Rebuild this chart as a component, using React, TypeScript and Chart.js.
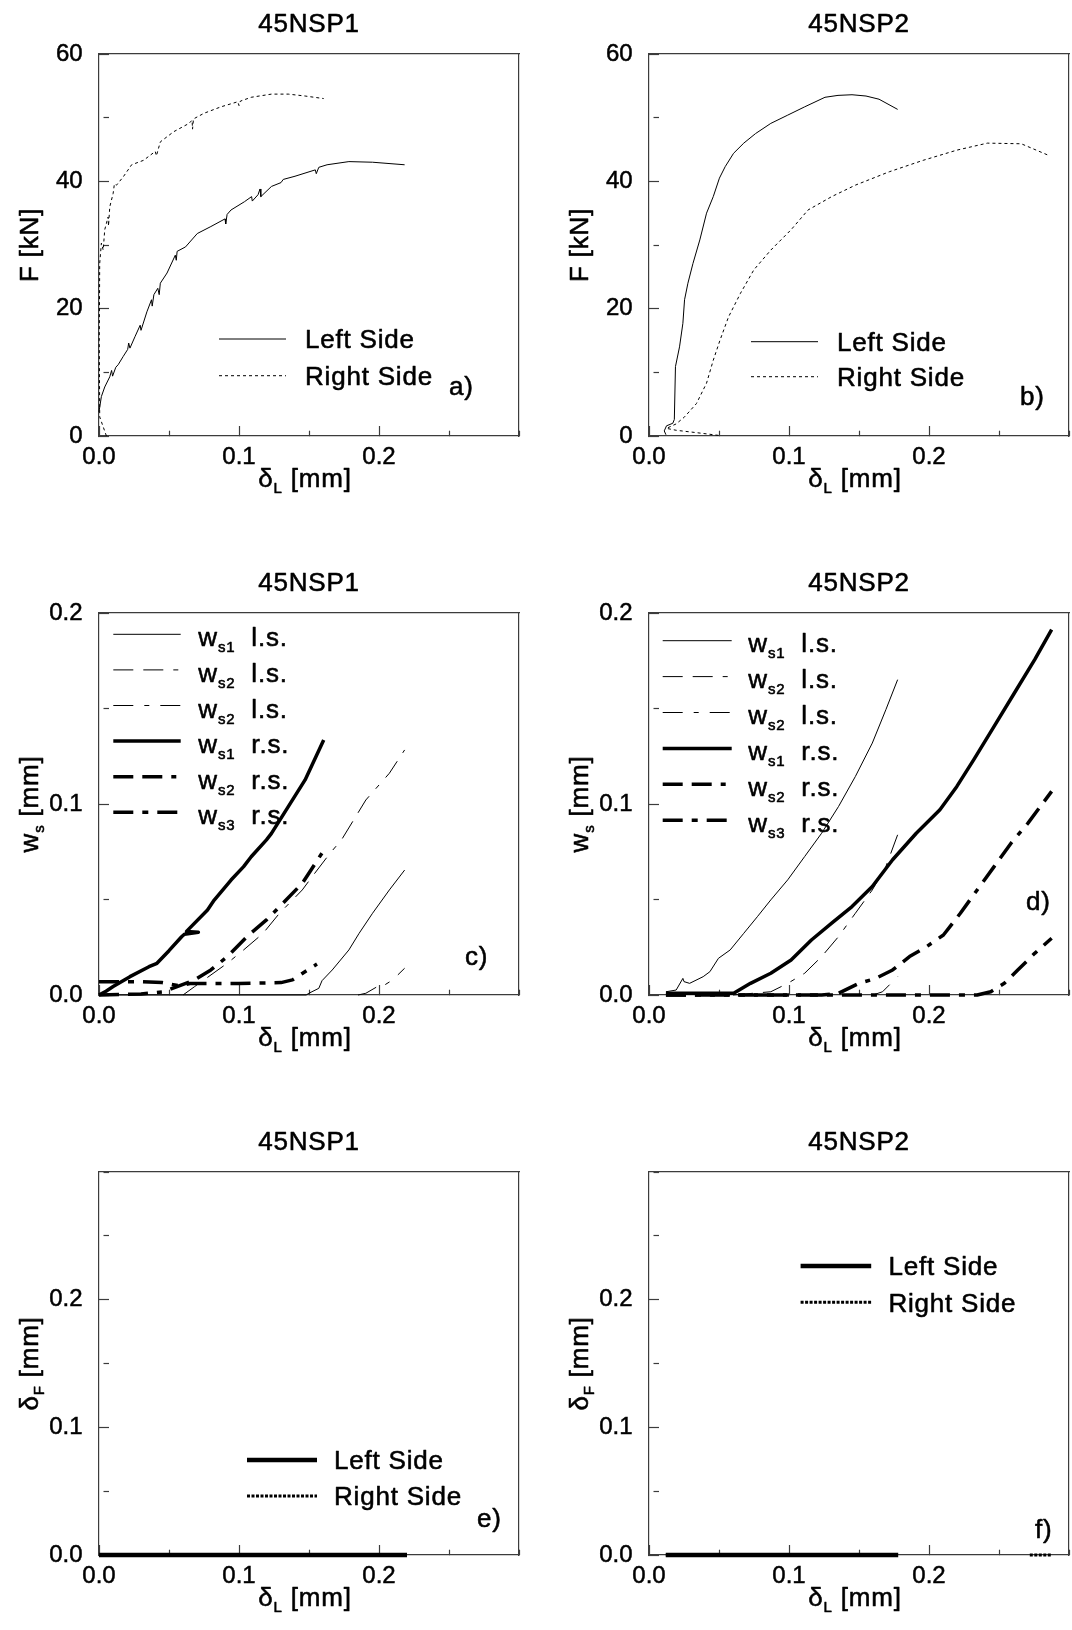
import React, { useEffect, useRef } from 'react';
import { Chart, registerables } from 'chart.js';

Chart.register(...registerables);

// ---------------- DATA ----------------
// axis ticks
const xTicks = [0, 0.05, 0.1, 0.15, 0.2, 0.25, 0.3];
const xTickLabels = ['0.0', '', '0.1', '', '0.2', '', ''];
const fTicks = [0, 10, 20, 30, 40, 50, 60];
const fTickLabels = ['0', '', '20', '', '40', '', '60'];
const wTicks = [0, 0.05, 0.1, 0.15, 0.2];
const wTickLabels = ['0.0', '', '0.1', '', '0.2'];
const dfTicks = [0, 0.05, 0.1, 0.15, 0.2, 0.25, 0.3];
const dfTickLabels = ['0.0', '', '0.1', '', '0.2', '', ''];

// a) 45NSP1  F [kN] vs deltaL [mm]
const aLeftX = [0, 0.0017, 0.0041, 0.0077, 0.009, 0.0097, 0.012, 0.0137, 0.0173, 0.0205, 0.0212, 0.0221, 0.0257, 0.0294, 0.03, 0.0342, 0.0375, 0.038, 0.0392, 0.042, 0.043, 0.0438, 0.0486, 0.0545, 0.0552, 0.0558, 0.0618, 0.0702, 0.0799, 0.09, 0.0905, 0.0915, 0.0943, 0.1039, 0.109, 0.1095, 0.1136, 0.115, 0.1156, 0.1232, 0.13, 0.1316, 0.14, 0.1545, 0.1552, 0.157, 0.1629, 0.1785, 0.1954, 0.2183];
const aLeftF = [3.8, 6.2, 7.7, 9.3, 10.3, 9.4, 10.8, 11.2, 12.5, 13.6, 14.6, 13.8, 15.6, 17.4, 16.6, 19.5, 21.4, 20.4, 22.2, 23.2, 22.2, 24.0, 25.6, 28.4, 27.6, 29.0, 29.7, 31.8, 32.9, 34.1, 33.3, 34.8, 35.5, 36.8, 37.6, 36.9, 37.9, 38.8, 37.6, 39.2, 39.8, 40.3, 40.8, 41.8, 41.2, 42.2, 42.6, 43.1, 43.0, 42.6];
const aRightX = [0.0053, 0.0005, 0.0002, 0.0005, 0.0017, 0.003, 0.0041, 0.0065, 0.0068, 0.0077, 0.0101, 0.011, 0.0125, 0.0173, 0.0233, 0.0318, 0.0402, 0.041, 0.0438, 0.0534, 0.0643, 0.0665, 0.0668, 0.0675, 0.0751, 0.0871, 0.0991, 0.1, 0.101, 0.1087, 0.1232, 0.1352, 0.1472, 0.1605];
const aRightF = [0, 3.0, 15, 27.1, 30.3, 29.2, 32.4, 34.4, 33.0, 36.0, 38.1, 39.6, 39.4, 40.7, 42.6, 43.3, 44.7, 44.0, 46.2, 47.8, 49.1, 49.6, 48.2, 49.8, 50.7, 51.7, 52.5, 51.9, 52.6, 53.2, 53.7, 53.7, 53.4, 53.0];

// b) 45NSP2  F [kN] vs deltaL [mm]
const bLeftX = [0.0121, 0.0109, 0.0125, 0.017, 0.0181, 0.0189, 0.0218, 0.0242, 0.0254, 0.0278, 0.0314, 0.0363, 0.0411, 0.0459, 0.0503, 0.0544, 0.0604, 0.0677, 0.0761, 0.087, 0.0991, 0.1112, 0.1257, 0.1350, 0.145, 0.1550, 0.1643, 0.1776];
const bLeftF = [0.2, 0.8, 1.6, 2.0, 2.6, 10.9, 14.0, 17.7, 21.4, 24.0, 27.1, 30.8, 35.0, 37.6, 40.5, 42.3, 44.4, 46.0, 47.5, 49.1, 50.4, 51.7, 53.2, 53.5, 53.6, 53.4, 52.9, 51.3];
const bRightX = [0.0496, 0.0387, 0.0194, 0.0125, 0.0194, 0.0254, 0.0339, 0.0411, 0.0459, 0.0508, 0.0568, 0.0653, 0.0749, 0.087, 0.1015, 0.1136, 0.1305, 0.1474, 0.1716, 0.1958, 0.2199, 0.2417, 0.2659, 0.2852];
const bRightF = [0.1, 0.4, 0.9, 1.2, 1.9, 3.0, 5.1, 8.3, 11.9, 15.1, 18.7, 22.4, 26.1, 29.2, 32.4, 35.5, 37.6, 39.4, 41.5, 43.3, 44.9, 46.0, 45.9, 44.1];

// c) 45NSP1  ws [mm] vs deltaL [mm]
const cWs1lsX = [0, 0.148, 0.1499, 0.157, 0.1593, 0.1666, 0.1785, 0.1858, 0.1954, 0.2074, 0.2183];
const cWs1lsY = [0, 0, 0.0009, 0.0035, 0.0075, 0.0131, 0.0236, 0.0323, 0.0428, 0.055, 0.0654];
const cWs2lsX = [0.06, 0.0683, 0.0916, 0.1033, 0.1172, 0.1289, 0.1382, 0.1452, 0.1522, 0.165, 0.1732, 0.1906, 0.2074, 0.2183];
const cWs2lsY = [0, 0.0044, 0.0166, 0.0236, 0.0323, 0.0428, 0.0497, 0.055, 0.0619, 0.0742, 0.0812, 0.1021, 0.1161, 0.1283];
const cWs3lsX = [0.185, 0.1906, 0.1988, 0.2002, 0.2098, 0.2183];
const cWs3lsY = [0, 0.0009, 0.0044, 0.0035, 0.0079, 0.014];
const cWs1rsX = [0, 0.005, 0.0101, 0.0221, 0.0357, 0.0414, 0.05, 0.059, 0.061, 0.071, 0.0625, 0.0775, 0.0823, 0.0943, 0.1033, 0.1087, 0.1196, 0.1232, 0.1352, 0.1472, 0.1605];
const cWs1rsY = [0, 0.002, 0.0044, 0.0096, 0.0148, 0.0166, 0.0232, 0.0305, 0.0318, 0.0328, 0.0333, 0.0445, 0.0497, 0.0602, 0.0672, 0.0724, 0.0812, 0.0846, 0.0986, 0.1126, 0.1335];
const cWs2rsX = [0, 0.03, 0.0462, 0.0558, 0.0683, 0.0799, 0.0916, 0.1056, 0.1196, 0.1336, 0.1452, 0.1545, 0.1615];
const cWs2rsY = [0, 0.0005, 0.0017, 0.0044, 0.0079, 0.0131, 0.0201, 0.0305, 0.0393, 0.0497, 0.0585, 0.0689, 0.0768];
const cWs3rsX = [0, 0.03, 0.045, 0.0566, 0.065, 0.1, 0.13, 0.1382, 0.1452, 0.1557];
const cWs3rsY = [0.007, 0.007, 0.0065, 0.0049, 0.006, 0.006, 0.0065, 0.0079, 0.0113, 0.0162];

// d) 45NSP2  ws [mm] vs deltaL [mm]
const dWs1lsX = [0.0121, 0.0194, 0.0242, 0.025, 0.029, 0.0387, 0.0435, 0.0496, 0.058, 0.0677, 0.0774, 0.087, 0.0991, 0.1112, 0.1233, 0.1354, 0.1474, 0.1595, 0.1692, 0.1776];
const dWs1lsY = [0.0017, 0.0026, 0.0087, 0.007, 0.0061, 0.0096, 0.0122, 0.0192, 0.0236, 0.0323, 0.041, 0.0498, 0.0603, 0.0725, 0.0847, 0.0987, 0.1144, 0.1319, 0.1494, 0.1651];
const dWs2lsX = [0.06, 0.087, 0.0991, 0.1112, 0.1233, 0.1354, 0.1474, 0.1595, 0.1692, 0.1776];
const dWs2lsY = [0, 0.0017, 0.0061, 0.0114, 0.0201, 0.0306, 0.0428, 0.055, 0.0672, 0.0839];
const dWs3lsX = [0.16, 0.1668, 0.1776];
const dWs3lsY = [0, 0.0017, 0.0096];
const dWs1rsX = [0.0121, 0.04, 0.0605, 0.0725, 0.087, 0.1015, 0.116, 0.1305, 0.145, 0.1595, 0.174, 0.1909, 0.2078, 0.2199, 0.232, 0.2465, 0.261, 0.2755, 0.2876];
const dWs1rsY = [0.0009, 0.0009, 0.0009, 0.0061, 0.0114, 0.0183, 0.0288, 0.0376, 0.0463, 0.0568, 0.0708, 0.0847, 0.097, 0.1092, 0.1232, 0.1406, 0.1581, 0.1756, 0.1913];
const dWs2rsX = [0.0121, 0.1233, 0.1354, 0.1499, 0.162, 0.174, 0.1861, 0.1982, 0.2103, 0.2224, 0.2344, 0.2465, 0.2586, 0.2707, 0.2876];
const dWs2rsY = [0, 0, 0.0009, 0.0061, 0.0087, 0.0131, 0.0201, 0.0253, 0.0314, 0.0428, 0.055, 0.0672, 0.0795, 0.09, 0.1066];
const dWs3rsX = [0.0121, 0.2344, 0.2441, 0.2538, 0.2634, 0.2755, 0.2876];
const dWs3rsY = [0, 0, 0.0017, 0.0061, 0.0131, 0.0218, 0.0297];

// e) 45NSP1  deltaF [mm] vs deltaL [mm]
const eLeftX = [0, 0.05, 0.1, 0.15, 0.22];
const eLeftY = [0, 0, 0, 0, 0];
const eRightX = [0, 0.05, 0.1, 0.16];
const eRightY = [0, 0, 0, 0];

// f) 45NSP2  deltaF [mm] vs deltaL [mm]
const fLeftX = [0.012, 0.05, 0.1, 0.15, 0.178];
const fLeftY = [0, 0, 0, 0, 0];
const fRightX = [0.012, 0.03, 0.05, 0.1, 0.272, 0.288];
const fRightY = [0, 0, 0, null, 0, 0];

// ---------------- STYLE ----------------
const FAMILY = '"Liberation Sans", Arial, Helvetica, sans-serif';
const MAIN_SIZE = 26;
const TICK_SIZE = 24;
const SUB_SIZE = 15;
const SUB_DY = 6;
const LETTER_SP = '0.8px';
const TEXT_STROKE = 0.55;
const AXIS_COLOR = '#3c3c3c';
const TEXT_COLOR = '#000';

const STY: Record<string, { w: number; dash: number[] }> = {
  thin: { w: 1, dash: [] },
  dotted: { w: 1, dash: [3, 3] },
  thinLLS: { w: 1, dash: [20, 10, 20, 10, 5, 10] },
  thinLS: { w: 1, dash: [20, 11, 5, 11] },
  thick: { w: 3.5, dash: [] },
  thickLLS: { w: 3.5, dash: [20, 9, 20, 9, 5, 9] },
  thickLS: { w: 3.5, dash: [20, 9, 6, 9] },
  heavy: { w: 4.5, dash: [] },
  heavyDot: { w: 3, dash: [3, 1.5] },
};

type Seg = { t: string; sub?: boolean };

const deltaL: Seg[] = [{ t: 'δ' }, { t: 'L', sub: true }, { t: ' [mm]' }];
const wsLabel = (n: string, side: string): Seg[] => [{ t: 'w' }, { t: 's' + n, sub: true }, { t: '  ' + side }];

function series(x: number[], y: (number | null)[], style: string) {
  return { x, y, style };
}

const rowTops = [0, 559, 1118];

const PANELS = [
  {
    key: 'a', left: 0, top: rowTops[0], w: 536, h: 559,
    plotLeft: 99, plotRight: 527, plotTop: 54, plotBottom: 436,
    title: '45NSP1', letter: 'a)', letterX: 350, letterY: 341,
    yMin: 0, yMax: 60, yTicks: fTicks, yLabels: fTickLabels,
    yTitle: [{ t: 'F [kN]' }] as Seg[],
    series: [series(aLeftX, aLeftF, 'thin'), series(aRightX, aRightF, 'dotted')],
    legend: { x0: 120, x1: 187, tx: 206, y0: 285, dy: 36.7, base: 9.3, items: [
      { ds: 0, text: [{ t: 'Left Side' }] }, { ds: 1, text: [{ t: 'Right Side' }] }] },
  },
  {
    key: 'b', left: 536, top: rowTops[0], w: 550, h: 559,
    plotLeft: 113, plotRight: 539, plotTop: 54, plotBottom: 436,
    title: '45NSP2', letter: 'b)', letterX: 371, letterY: 351,
    yMin: 0, yMax: 60, yTicks: fTicks, yLabels: fTickLabels,
    yTitle: [{ t: 'F [kN]' }] as Seg[],
    series: [series(bLeftX, bLeftF, 'thin'), series(bRightX, bRightF, 'dotted')],
    legend: { x0: 102, x1: 169, tx: 188, y0: 287.7, dy: 35, base: 9.3, items: [
      { ds: 0, text: [{ t: 'Left Side' }] }, { ds: 1, text: [{ t: 'Right Side' }] }] },
  },
  {
    key: 'c', left: 0, top: rowTops[1], w: 536, h: 559,
    plotLeft: 99, plotRight: 527, plotTop: 54, plotBottom: 436,
    title: '45NSP1', letter: 'c)', letterX: 366, letterY: 352,
    yMin: 0, yMax: 0.2, yTicks: wTicks, yLabels: wTickLabels,
    yTitle: [{ t: 'w' }, { t: 's', sub: true }, { t: ' [mm]' }] as Seg[],
    series: [
      series(cWs1lsX, cWs1lsY, 'thin'), series(cWs2lsX, cWs2lsY, 'thinLLS'), series(cWs3lsX, cWs3lsY, 'thinLS'),
      series(cWs1rsX, cWs1rsY, 'thick'), series(cWs2rsX, cWs2rsY, 'thickLLS'), series(cWs3rsX, cWs3rsY, 'thickLS'),
    ],
    legend: { x0: 14.3, x1: 81.7, tx: 99.3, y0: 21.3, dy: 35.6, base: 12, items: [
      { ds: 0, text: wsLabel('1', 'l.s.') }, { ds: 1, text: wsLabel('2', 'l.s.') }, { ds: 2, text: wsLabel('2', 'l.s.') },
      { ds: 3, text: wsLabel('1', 'r.s.') }, { ds: 4, text: wsLabel('2', 'r.s.') }, { ds: 5, text: wsLabel('3', 'r.s.') }] },
  },
  {
    key: 'd', left: 536, top: rowTops[1], w: 550, h: 559,
    plotLeft: 113, plotRight: 539, plotTop: 54, plotBottom: 436,
    title: '45NSP2', letter: 'd)', letterX: 377, letterY: 297,
    yMin: 0, yMax: 0.2, yTicks: wTicks, yLabels: wTickLabels,
    yTitle: [{ t: 'w' }, { t: 's', sub: true }, { t: ' [mm]' }] as Seg[],
    series: [
      series(dWs1lsX, dWs1lsY, 'thin'), series(dWs2lsX, dWs2lsY, 'thinLLS'), series(dWs3lsX, dWs3lsY, 'thinLS'),
      series(dWs1rsX, dWs1rsY, 'thick'), series(dWs2rsX, dWs2rsY, 'thickLLS'), series(dWs3rsX, dWs3rsY, 'thickLS'),
    ],
    legend: { x0: 13.7, x1: 82.7, tx: 99.3, y0: 27.7, dy: 35.9, base: 11.5, items: [
      { ds: 0, text: wsLabel('1', 'l.s.') }, { ds: 1, text: wsLabel('2', 'l.s.') }, { ds: 2, text: wsLabel('2', 'l.s.') },
      { ds: 3, text: wsLabel('1', 'r.s.') }, { ds: 4, text: wsLabel('2', 'r.s.') }, { ds: 5, text: wsLabel('3', 'r.s.') }] },
  },
  {
    key: 'e', left: 0, top: rowTops[2], w: 536, h: 559,
    plotLeft: 99, plotRight: 527, plotTop: 54, plotBottom: 437,
    title: '45NSP1', letter: 'e)', letterX: 378, letterY: 355,
    yMin: 0, yMax: 0.3, yTicks: dfTicks, yLabels: dfTickLabels,
    yTitle: [{ t: 'δ' }, { t: 'F', sub: true }, { t: ' [mm]' }] as Seg[],
    series: [series(eRightX, eRightY, 'heavyDot'), series(eLeftX, eLeftY, 'heavy')],
    legend: { x0: 148, x1: 218, tx: 235, y0: 288, dy: 36, base: 9.3, items: [
      { ds: 1, text: [{ t: 'Left Side' }] }, { ds: 0, text: [{ t: 'Right Side' }] }] },
  },
  {
    key: 'f', left: 536, top: rowTops[2], w: 550, h: 559,
    plotLeft: 113, plotRight: 539, plotTop: 54, plotBottom: 437,
    title: '45NSP2', letter: 'f)', letterX: 386, letterY: 366,
    yMin: 0, yMax: 0.3, yTicks: dfTicks, yLabels: dfTickLabels,
    yTitle: [{ t: 'δ' }, { t: 'F', sub: true }, { t: ' [mm]' }] as Seg[],
    series: [series(fRightX, fRightY, 'heavyDot'), series(fLeftX, fLeftY, 'heavy')],
    legend: { x0: 151.6, x1: 222.2, tx: 239.4, y0: 94, dy: 36.3, base: 9.3, items: [
      { ds: 1, text: [{ t: 'Left Side' }] }, { ds: 0, text: [{ t: 'Right Side' }] }] },
  },
];

// ---------------- DRAW HELPERS ----------------
const MAIN_FONT = `${MAIN_SIZE}px ${FAMILY}`;
const SUB_FONT = `${SUB_SIZE}px ${FAMILY}`;

function richWidth(ctx: CanvasRenderingContext2D, segs: Seg[]) {
  let w = 0;
  for (const s of segs) {
    ctx.font = s.sub ? SUB_FONT : MAIN_FONT;
    w += ctx.measureText(s.t).width;
  }
  return w;
}

function drawRich(ctx: CanvasRenderingContext2D, segs: Seg[], x: number, y: number, align: 'left' | 'center') {
  const w = richWidth(ctx, segs);
  let cx = align === 'center' ? x - w / 2 : x;
  ctx.textAlign = 'left';
  ctx.textBaseline = 'alphabetic';
  ctx.lineWidth = TEXT_STROKE;
  ctx.strokeStyle = TEXT_COLOR;
  ctx.lineJoin = 'round';
  for (const s of segs) {
    ctx.font = s.sub ? SUB_FONT : MAIN_FONT;
    const yy = s.sub ? y + SUB_DY : y;
    ctx.fillText(s.t, cx, yy);
    ctx.strokeText(s.t, cx, yy);
    cx += ctx.measureText(s.t).width;
  }
}

function makeTextPlugin(p: any) {
  return {
    id: 'panelText_' + p.key,
    afterDraw(chart: any) {
      const ctx: CanvasRenderingContext2D = chart.ctx;
      const ca = chart.chartArea;
      const cxm = (ca.left + ca.right) / 2;
      ctx.save();
      ctx.fillStyle = TEXT_COLOR;
      (ctx as any).letterSpacing = LETTER_SP;
      // panel title
      drawRich(ctx, [{ t: p.title }], cxm, ca.top - 22, 'center');
      // x axis title
      drawRich(ctx, deltaL, cxm - 4, ca.bottom + 51, 'center');
      // y axis title (rotated)
      ctx.save();
      ctx.translate(ca.left - 61, (ca.top + ca.bottom) / 2);
      ctx.rotate(-Math.PI / 2);
      drawRich(ctx, p.yTitle, 0, 0, 'center');
      ctx.restore();
      // legend
      const lg = p.legend;
      lg.items.forEach((it: any, i: number) => {
        const ds = chart.data.datasets[it.ds];
        const y = ca.top + lg.y0 + i * lg.dy;
        ctx.save();
        ctx.strokeStyle = ds.borderColor;
        ctx.lineWidth = ds.borderWidth;
        ctx.setLineDash(ds.borderDash || []);
        ctx.lineCap = 'butt';
        ctx.beginPath();
        ctx.moveTo(ca.left + lg.x0, y);
        ctx.lineTo(ca.left + lg.x1, y);
        ctx.stroke();
        ctx.restore();
        drawRich(ctx, it.text, ca.left + lg.tx, y + lg.base, 'left');
      });
      // panel letter
      drawRich(ctx, [{ t: p.letter }], ca.left + p.letterX, ca.top + p.letterY, 'left');
      ctx.restore();
    },
  };
}

function borderAxis(position: 'top' | 'right', min: number, max: number) {
  return {
    type: 'linear', position, min, max, display: true,
    ticks: { display: false },
    grid: { display: true, drawOnChartArea: false, drawTicks: false },
    border: { display: true, color: AXIS_COLOR, width: 1.2 },
    afterFit: (s: any) => {
      if (position === 'top') s.height = 0; else s.width = 0;
    },
  };
}

function buildConfig(p: any) {
  const tickFont = { family: FAMILY, size: TICK_SIZE };
  return {
    type: 'scatter',
    data: {
      datasets: p.series.map((s: any, i: number) => ({
        label: 'series' + i,
        data: s.x.map((x: number, j: number) => ({ x, y: s.y[j] })),
        showLine: true,
        pointRadius: 0,
        pointHoverRadius: 0,
        borderColor: '#000',
        backgroundColor: '#000',
        borderWidth: STY[s.style].w,
        borderDash: STY[s.style].dash,
        borderCapStyle: 'butt',
        borderJoinStyle: 'round',
        fill: false,
        tension: 0,
        spanGaps: false,
        clip: false,
      })),
    },
    options: {
      responsive: false,
      animation: false,
      events: [],
      layout: { padding: { left: 0, top: p.plotTop, right: p.w - p.plotRight, bottom: 0 } },
      plugins: { legend: { display: false }, tooltip: { enabled: false }, title: { display: false } },
      scales: {
        x: {
          type: 'linear', position: 'bottom', min: 0, max: 0.3,
          afterBuildTicks: (s: any) => { s.ticks = xTicks.map((v) => ({ value: v })); },
          afterFit: (s: any) => { s.height = p.h - p.plotBottom; },
          ticks: {
            autoSkip: false, maxRotation: 0, minRotation: 0, padding: 17, color: TEXT_COLOR,
            font: tickFont, textStrokeColor: TEXT_COLOR, textStrokeWidth: 0.5,
            callback: (_v: any, i: number) => xTickLabels[i],
          },
          grid: {
            drawOnChartArea: false, drawTicks: true, tickLength: -10, tickColor: AXIS_COLOR, tickWidth: 1.2,
            tickBorderDash: (c: any) => (xTickLabels[c.index] ? [] : [5.5, 40]),
          },
          border: { display: true, color: AXIS_COLOR, width: 1.2 },
        },
        y: {
          type: 'linear', position: 'left', min: p.yMin, max: p.yMax,
          afterBuildTicks: (s: any) => { s.ticks = p.yTicks.map((v: number) => ({ value: v })); },
          afterFit: (s: any) => { s.width = p.plotLeft; },
          ticks: {
            autoSkip: false, padding: 26.4, color: TEXT_COLOR,
            font: tickFont, textStrokeColor: TEXT_COLOR, textStrokeWidth: 0.5,
            callback: (_v: any, i: number) => p.yLabels[i],
          },
          grid: {
            drawOnChartArea: false, drawTicks: true, tickLength: -10, tickColor: AXIS_COLOR, tickWidth: 1.2,
            tickBorderDash: (c: any) => (p.yLabels[c.index] ? [] : [5.5, 40]),
          },
          border: { display: true, color: AXIS_COLOR, width: 1.2 },
        },
        x2: borderAxis('top', 0, 0.3),
        y2: borderAxis('right', p.yMin, p.yMax),
      },
    },
    plugins: [makeTextPlugin(p)],
  };
}

function Panel({ p }: { p: any }) {
  const ref = useRef<HTMLCanvasElement | null>(null);
  useEffect(() => {
    if (!ref.current) return;
    const chart = new Chart(ref.current, buildConfig(p) as any);
    return () => chart.destroy();
  }, [p]);
  return (
    <canvas
      ref={ref}
      width={p.w}
      height={p.h}
      style={{ position: 'absolute', left: p.left, top: p.top, width: p.w, height: p.h }}
    />
  );
}

export default function App() {
  return (
    <div
      style={{
        position: 'absolute', left: 0, top: 0, width: 1072, height: 1630,
        overflow: 'hidden', background: '#fff',
      }}
    >
      {PANELS.map((p) => (
        <Panel key={p.key} p={p} />
      ))}
    </div>
  );
}
